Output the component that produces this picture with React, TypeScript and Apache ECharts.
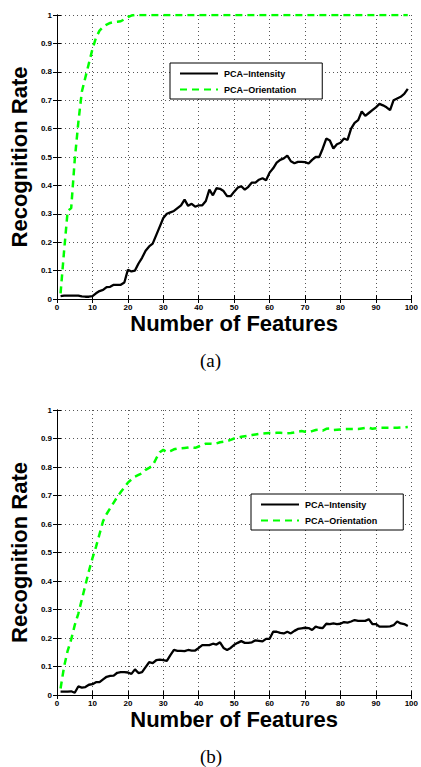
import React, { useEffect, useRef } from "react";
import * as echarts from "echarts";

// Number of features (x values)
const FEATURES: number[] = Array.from({ length: 99 }, (_, i) => i + 1);

const X_TICKS = { min: 0, max: 100, interval: 10 };
const Y_TICKS = { min: 0, max: 1, interval: 0.1 };

const NAME_INTENSITY = "PCA−Intensity";
const NAME_ORIENTATION = "PCA−Orientation";

// (a) top chart
const A_INTENSITY: number[] = [
  0.010, 0.012, 0.012, 0.012, 0.012, 0.012, 0.009, 0.008, 0.008, 0.010,
  0.020, 0.028, 0.032, 0.042, 0.043, 0.050, 0.050, 0.050, 0.058, 0.103,
  0.097, 0.100, 0.125, 0.145, 0.170, 0.185, 0.195, 0.225, 0.255, 0.285,
  0.300, 0.305, 0.310, 0.320, 0.330, 0.350, 0.328, 0.335, 0.325, 0.330,
  0.330, 0.345, 0.385, 0.365, 0.390, 0.388, 0.380, 0.362, 0.362, 0.378,
  0.392, 0.397, 0.385, 0.395, 0.410, 0.410, 0.420, 0.425, 0.418, 0.445,
  0.460, 0.480, 0.490, 0.495, 0.505, 0.485, 0.478, 0.483, 0.483, 0.482,
  0.477, 0.490, 0.500, 0.500, 0.530, 0.565, 0.558, 0.530, 0.545, 0.550,
  0.565, 0.560, 0.600, 0.620, 0.630, 0.660, 0.645, 0.655, 0.665, 0.675,
  0.687, 0.682, 0.675, 0.665, 0.700, 0.706, 0.712, 0.722, 0.740,
];
const A_ORIENTATION: number[] = [
  0.020, 0.170, 0.310, 0.320, 0.490, 0.620, 0.730, 0.780, 0.830, 0.880,
  0.920, 0.945, 0.958, 0.966, 0.972, 0.975, 0.976, 0.978, 0.985, 0.993,
  0.998, 1.000, 1.000, 1.000, 1.000, 1.000, 1.000, 1.000, 1.000, 1.000,
  1.000, 1.000, 1.000, 1.000, 1.000, 1.000, 1.000, 1.000, 1.000, 1.000,
  1.000, 1.000, 1.000, 1.000, 1.000, 1.000, 1.000, 1.000, 1.000, 1.000,
  1.000, 1.000, 1.000, 1.000, 1.000, 1.000, 1.000, 1.000, 1.000, 1.000,
  1.000, 1.000, 1.000, 1.000, 1.000, 1.000, 1.000, 1.000, 1.000, 1.000,
  1.000, 1.000, 1.000, 1.000, 1.000, 1.000, 1.000, 1.000, 1.000, 1.000,
  1.000, 1.000, 1.000, 1.000, 1.000, 1.000, 1.000, 1.000, 1.000, 1.000,
  1.000, 1.000, 1.000, 1.000, 1.000, 1.000, 1.000, 1.000, 1.000,
];

// (b) bottom chart
const B_INTENSITY: number[] = [
  0.012, 0.012, 0.012, 0.013, 0.008, 0.030, 0.026, 0.028, 0.036, 0.038,
  0.045, 0.045, 0.055, 0.064, 0.067, 0.068, 0.078, 0.080, 0.080, 0.079,
  0.074, 0.090, 0.077, 0.080, 0.098, 0.115, 0.112, 0.122, 0.124, 0.122,
  0.120, 0.140, 0.158, 0.155, 0.155, 0.154, 0.158, 0.156, 0.156, 0.165,
  0.175, 0.175, 0.175, 0.180, 0.177, 0.185, 0.165, 0.158, 0.165, 0.176,
  0.183, 0.189, 0.183, 0.183, 0.185, 0.192, 0.190, 0.188, 0.197, 0.197,
  0.222, 0.222, 0.218, 0.216, 0.222, 0.216, 0.225, 0.232, 0.234, 0.236,
  0.235, 0.228, 0.240, 0.236, 0.235, 0.250, 0.249, 0.251, 0.249, 0.250,
  0.256, 0.254, 0.258, 0.263, 0.260, 0.260, 0.260, 0.266, 0.249, 0.249,
  0.240, 0.240, 0.240, 0.241, 0.245, 0.258, 0.251, 0.249, 0.242,
];
const B_ORIENTATION: number[] = [
  0.023, 0.100, 0.155, 0.195, 0.245, 0.285, 0.335, 0.385, 0.435, 0.480,
  0.520, 0.565, 0.610, 0.635, 0.655, 0.675, 0.695, 0.712, 0.728, 0.745,
  0.756, 0.766, 0.772, 0.778, 0.790, 0.797, 0.805, 0.830, 0.852, 0.860,
  0.852, 0.856, 0.862, 0.865, 0.866, 0.867, 0.868, 0.870, 0.867, 0.872,
  0.877, 0.882, 0.882, 0.881, 0.883, 0.887, 0.889, 0.891, 0.895, 0.900,
  0.903, 0.906, 0.908, 0.910, 0.912, 0.914, 0.916, 0.917, 0.918, 0.919,
  0.919, 0.920, 0.920, 0.919, 0.918, 0.919, 0.921, 0.924, 0.926, 0.924,
  0.922, 0.926, 0.930, 0.931, 0.928, 0.934, 0.935, 0.930, 0.931, 0.932,
  0.933, 0.933, 0.933, 0.933, 0.933, 0.935, 0.937, 0.938, 0.934, 0.936,
  0.938, 0.938, 0.938, 0.938, 0.938, 0.938, 0.939, 0.939, 0.940,
];

const SANS = "'Liberation Sans', Arial, Helvetica, sans-serif";
const SERIF = "'Liberation Serif', 'Times New Roman', serif";

function pairs(ys: number[]) {
  return FEATURES.map((x, i) => [x, ys[i]]);
}

function buildOption() {
  const grids = [
    { left: 54, top: 15, width: 361, height: 284 },
    { left: 52, top: 410, width: 362, height: 285 },
  ];
  const splitLine = {
    show: true,
    lineStyle: { color: "#555", type: [1, 3] as any, width: 1 },
  };
  const axisLine = { show: true, lineStyle: { color: "#000", width: 1 } };
  const tick = { show: true, inside: true, length: 4, lineStyle: { color: "#000" } };
  const labelStyle = {
    fontFamily: SANS,
    fontWeight: "bold" as const,
    fontSize: 8,
    color: "#000",
  };
  const nameStyle = {
    fontFamily: SANS,
    fontWeight: "bold" as const,
    fontSize: 22,
    color: "#000",
  };

  const xAxis: any[] = [];
  const yAxis: any[] = [];
  grids.forEach((_, g) => {
    xAxis.push({
      type: "value",
      gridIndex: g,
      ...X_TICKS,
      position: "bottom",
      name: "Number of Features",
      nameLocation: "middle",
      nameGap: 13,
      nameTextStyle: nameStyle,
      axisLine,
      axisTick: tick,
      axisLabel: { ...labelStyle, margin: 4 },
      splitLine,
    });
    xAxis.push({
      type: "value",
      gridIndex: g,
      ...X_TICKS,
      position: "top",
      axisLine,
      axisTick: tick,
      axisLabel: { show: false },
      splitLine: { show: false },
    });
    yAxis.push({
      type: "value",
      gridIndex: g,
      ...Y_TICKS,
      position: "left",
      name: "Recognition Rate",
      nameLocation: "middle",
      nameGap: 19,
      nameTextStyle: nameStyle,
      axisLine,
      axisTick: tick,
      axisLabel: { ...labelStyle, margin: 5 },
      splitLine,
    });
    yAxis.push({
      type: "value",
      gridIndex: g,
      ...Y_TICKS,
      position: "right",
      axisLine,
      axisTick: tick,
      axisLabel: { show: false },
      splitLine: { show: false },
    });
  });

  const intensityStyle = { color: "#000", width: 2.3, type: "solid" as const };
  const orientationStyle = { color: "#00ff00", width: 2.5, type: [7, 5] as any };

  const mk = (name: string, data: number[], g: number, style: any) => ({
    type: "line",
    name,
    xAxisIndex: g * 2,
    yAxisIndex: g * 2,
    data: pairs(data),
    symbol: "none",
    showSymbol: false,
    lineStyle: style,
    itemStyle: { color: style.color },
    z: name === NAME_INTENSITY ? 3 : 4,
  });

  const legendBase = {
    orient: "vertical" as const,
    data: [NAME_INTENSITY, NAME_ORIENTATION],
    itemWidth: 38,
    itemHeight: 10,
    itemGap: 7,
    padding: [6, 26, 5, 9],
    backgroundColor: "#fff",
    borderColor: "#000",
    borderWidth: 1,
    borderRadius: 0,
    selectedMode: false,
    itemStyle: { opacity: 0, borderWidth: 0 },
    textStyle: {
      fontFamily: SANS,
      fontWeight: "bold" as const,
      fontSize: 9,
      color: "#000",
      padding: [0, 0, 0, 1],
    },
  };

  return {
    animation: false,
    backgroundColor: "#fff",
    grid: grids,
    xAxis,
    yAxis,
    legend: [
      { ...legendBase, left: 170, top: 63 },
      { ...legendBase, left: 251, top: 494 },
    ],
    series: [
      mk(NAME_INTENSITY, A_INTENSITY, 0, intensityStyle),
      mk(NAME_ORIENTATION, A_ORIENTATION, 0, orientationStyle),
      mk(NAME_INTENSITY, B_INTENSITY, 1, intensityStyle),
      mk(NAME_ORIENTATION, B_ORIENTATION, 1, orientationStyle),
    ],
    graphic: [
      {
        type: "text",
        left: 200,
        top: 351,
        style: { text: "(a)", fontFamily: SERIF, fontSize: 19, fill: "#000" },
      },
      {
        type: "text",
        left: 200,
        top: 747,
        style: { text: "(b)", fontFamily: SERIF, fontSize: 19, fill: "#000" },
      },
    ],
  };
}

export default function App() {
  const ref = useRef<HTMLDivElement>(null);
  useEffect(() => {
    if (!ref.current) return;
    const chart = echarts.init(ref.current, undefined, { renderer: "svg" });
    chart.setOption(buildOption() as any);
    return () => chart.dispose();
  }, []);
  return (
    <div
      ref={ref}
      style={{ position: "fixed", left: 0, top: 0, width: 421, height: 767, background: "#fff" }}
    />
  );
}
